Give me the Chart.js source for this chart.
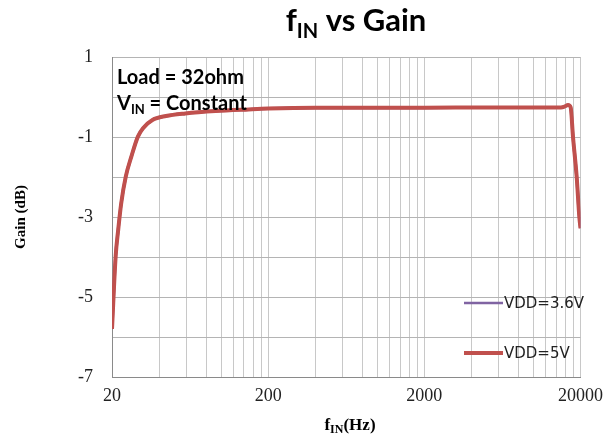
<!DOCTYPE html>
<html>
<head>
<meta charset="utf-8">
<script src="https://cdn.jsdelivr.net/npm/chart.js@4.4.1/dist/chart.umd.min.js"></script>
<style>
  html, body { margin: 0; padding: 0; background: #fff; }
  #wrap { width: 611px; height: 441px; position: relative; }
</style>
</head>
<body>
<div id="wrap"><canvas id="myChart" width="611" height="441"></canvas></div>
<script>
// DATA
var freqHz = [20, 21.1, 21.9, 22.9, 24.5, 26.6, 29.3, 31.6, 36.3, 44.3, 59, 92, 150, 200, 400, 1000, 2000, 5000, 10000, 15000, 15800, 16640, 17300, 17900, 18900, 19650, 20000];
var gainVdd36 = [-5.8, -3.99, -3.33, -2.66, -1.99, -1.49, -0.99, -0.78, -0.575, -0.475, -0.41, -0.35, -0.31, -0.29, -0.27, -0.27, -0.27, -0.26, -0.26, -0.26, -0.24, -0.2, -0.26, -0.99, -1.99, -2.99, -3.28];
var gainVdd5 = [-5.8, -3.99, -3.33, -2.66, -1.99, -1.49, -0.99, -0.78, -0.575, -0.475, -0.41, -0.35, -0.31, -0.29, -0.27, -0.27, -0.27, -0.26, -0.26, -0.26, -0.24, -0.2, -0.26, -0.99, -1.99, -2.99, -3.28];
var seriesNames = ['VDD=3.6V', 'VDD=5V'];
var xGridValues = [20, 40, 60, 80, 100, 120, 140, 160, 180, 200, 400, 600, 800, 1000, 1200, 1400, 1600, 1800, 2000, 4000, 6000, 8000, 10000, 12000, 14000, 16000, 18000, 20000];
var xTickLabels = [20, 200, 2000, 20000];
var yTickLabels = [-7, -5, -3, -1, 1];

function toPoints(xs, ys) {
    var pts = [];
    for (var i = 0; i < xs.length; i++) pts.push({ x: xs[i], y: ys[i] });
    return pts;
}

// texto com subscrito
function drawSub(ctx, x, y, parts, font, subFont, subDrop) {
    parts.forEach(function (p) {
        ctx.font = p.sub ? subFont : font;
        ctx.fillText(p.t, x, y + (p.sub ? subDrop : 0));
        x += ctx.measureText(p.t).width;
    });
    return x;
}
function subWidth(ctx, parts, font, subFont) {
    var w = 0;
    parts.forEach(function (p) {
        ctx.font = p.sub ? subFont : font;
        w += ctx.measureText(p.t).width;
    });
    return w;
}

var textPlugin = {
    id: 'textPlugin',
    afterDraw: function (chart) {
        var ctx = chart.ctx;
        var area = chart.chartArea;
        ctx.save();
        ctx.fillStyle = '#000';
        ctx.textBaseline = 'alphabetic';
        ctx.textAlign = 'left';

        // titulo
        var tParts = [{ t: 'f' }, { t: 'IN', sub: true }, { t: ' vs Gain' }];
        var tf = 'bold 31px Lato', tsf = 'bold 20px Lato';
        var tw = subWidth(ctx, tParts, tf, tsf);
        drawSub(ctx, 356 - tw / 2, 31, tParts, tf, tsf, 7);

        // anotacoes
        ctx.font = 'bold 20px Lato';
        ctx.fillText('Load = 32ohm', area.left + 5, 84);
        drawSub(ctx, area.left + 5, 110, [{ t: 'V' }, { t: 'IN', sub: true }, { t: ' = Constant' }], 'bold 20px Lato', 'bold 13px Lato', 4);

        // titulo eixo x
        var xParts = [{ t: 'f' }, { t: 'IN', sub: true }, { t: '(Hz)' }];
        var xf = 'bold 17px "Liberation Serif"', xsf = 'bold 12px "Liberation Serif"';
        var xw = subWidth(ctx, xParts, xf, xsf);
        drawSub(ctx, 350 - xw / 2, 430, xParts, xf, xsf, 3);

        // titulo eixo y
        ctx.save();
        ctx.translate(25, 217);
        ctx.rotate(-Math.PI / 2);
        ctx.textAlign = 'center';
        ctx.font = 'bold 15px "Liberation Serif"';
        ctx.fillText('Gain (dB)', 0, 0);
        ctx.restore();

        // legenda
        var ly = [303, 353];
        chart.data.datasets.forEach(function (ds, i) {
            ctx.strokeStyle = ds.borderColor;
            ctx.lineWidth = i === 0 ? 2.5 : 4;
            ctx.beginPath();
            ctx.moveTo(464, ly[i]);
            ctx.lineTo(503, ly[i]);
            ctx.stroke();
            ctx.fillStyle = '#222';
            ctx.font = '15px "DejaVu Sans"';
            ctx.textBaseline = 'middle';
            ctx.fillText(ds.label, 504, ly[i] + 1);
        });
        ctx.restore();
    }
};

var config = {
    type: 'line',
    data: {
        datasets: [{
            label: seriesNames[0],
            data: toPoints(freqHz, gainVdd36),
            borderColor: '#8064a2',
            borderWidth: 3,
            pointRadius: 0,
            order: 2,
            cubicInterpolationMode: 'monotone'
        }, {
            label: seriesNames[1],
            data: toPoints(freqHz, gainVdd5),
            borderColor: '#c0504d',
            borderWidth: 4,
            pointRadius: 0,
            order: 1,
            cubicInterpolationMode: 'monotone'
        }]
    },
    options: {
        responsive: false,
        animation: false,
        layout: { padding: { left: 0, top: 57, right: 25, bottom: 0 } },
        plugins: {
            legend: { display: false },
            title: { display: false },
            tooltip: { enabled: false }
        },
        scales: {
            x: {
                type: 'logarithmic',
                min: 20,
                max: 20000,
                afterBuildTicks: function (scale) {
                    scale.ticks = xGridValues.map(function (v) { return { value: v }; });
                },
                afterFit: function (scale) { scale.height = 64; },
                ticks: {
                    autoSkip: false,
                    maxRotation: 0,
                    padding: 8,
                    color: '#222',
                    font: { family: 'Liberation Serif', size: 18 },
                    callback: function (v) {
                        return xTickLabels.indexOf(v) >= 0 ? String(v) : '';
                    }
                },
                grid: { color: '#c8c8c8', lineWidth: 1, drawTicks: false },
                border: { color: '#8a8a8a', width: 1 }
            },
            y: {
                min: -7,
                max: 1,
                ticks: {
                    stepSize: 1,
                    padding: 19,
                    color: '#222',
                    font: { family: 'Liberation Serif', size: 18 },
                    callback: function (v) {
                        return yTickLabels.indexOf(v) >= 0 ? String(v) : '';
                    }
                },
                afterFit: function (scale) { scale.width = 112; },
                grid: { color: '#b4b4b4', lineWidth: 1, drawTicks: false },
                border: { color: '#8a8a8a', width: 1 }
            }
        }
    },
    plugins: [textPlugin]
};

var myChart = new Chart(document.getElementById('myChart'), config);
</script>
</body>
</html>
